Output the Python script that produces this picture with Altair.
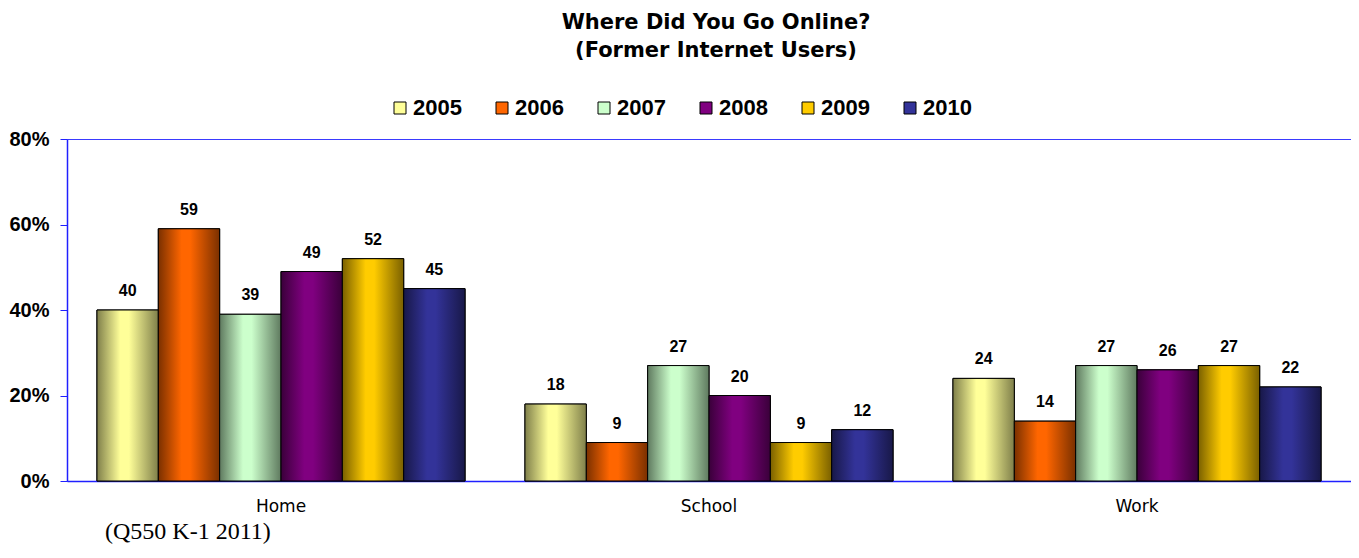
import altair as alt
import pandas as pd

places = ["Home", "School", "Work"]
years = ["2005", "2006", "2007", "2008", "2009", "2010"]
v2005 = [40, 18, 24]
v2006 = [59, 9, 14]
v2007 = [39, 27, 27]
v2008 = [49, 20, 26]
v2009 = [52, 9, 27]
v2010 = [45, 12, 22]
series = [v2005, v2006, v2007, v2008, v2009, v2010]
y_ticks = [0, 20, 40, 60, 80]

base_colors = ["#FFFF99", "#FF6600", "#CCFFCC", "#800080", "#FFCC00", "#333399"]
dark_colors = ["#7f7f4a", "#7a3000", "#5f7a5f", "#3a003a", "#7a6000", "#181848"]

title_lines = ["Where Did You Go Online?", "(Former Internet Users)"]
footnote = ["(Q550 K-1 2011)"]

rows = []
for y, vals in zip(years, series):
    for p, v in zip(places, vals):
        rows.append({"place": p, "year": y, "value": v})
df = pd.DataFrame(rows)

x_enc = alt.X("place:N", sort=places,
              scale=alt.Scale(domain=places, paddingInner=0.14, paddingOuter=0.07),
              axis=alt.Axis(title=None, labelAngle=0, ticks=False, domainColor="#2020ff",
                            domainWidth=1.5, labelFont="DejaVu Sans", labelFontSize=17,
                            labelColor="#000", labelPadding=17))
xoff_enc = alt.XOffset("year:N", sort=years,
                       scale=alt.Scale(domain=years, paddingInner=0, paddingOuter=0))
y_enc = alt.Y("value:Q", scale=alt.Scale(domain=[0, 80], nice=False),
              axis=alt.Axis(title=None, values=y_ticks, grid=False, domainColor="#2020ff",
                            domainWidth=1.5, tickColor="#2020ff", tickSize=7,
                            labelExpr="datum.value + '%'", labelFont="Liberation Sans",
                            labelFontWeight="bold", labelFontSize=20, labelColor="#000",
                            labelPadding=11))

legend_layer = alt.Chart(df).mark_bar(stroke="#000", strokeWidth=1).encode(
    x=x_enc, xOffset=xoff_enc, y=y_enc,
    color=alt.Color("year:N", sort=years,
                    scale=alt.Scale(domain=years, range=base_colors),
                    legend=alt.Legend(title=None, orient="none", direction="horizontal",
                                      legendX=322, legendY=-42, padding=0,
                                      symbolType="square", symbolSize=144,
                                      symbolStrokeColor="#000", symbolStrokeWidth=1,
                                      labelFont="Liberation Sans", labelFontWeight="bold",
                                      labelFontSize=22, labelColor="#000",
                                      labelOffset=2, columnPadding=29))
)

layers = [legend_layer]
for y, b, d in zip(years, base_colors, dark_colors):
    grad = alt.Gradient(
        gradient="linear", x1=0, x2=1, y1=0, y2=0,
        stops=[alt.GradientStop(color=d, offset=0),
               alt.GradientStop(color=b, offset=0.38),
               alt.GradientStop(color=b, offset=0.52),
               alt.GradientStop(color=d, offset=1)])
    layers.append(
        alt.Chart(df).transform_filter(alt.datum.year == y)
        .mark_bar(fill=grad, stroke="#000", strokeWidth=1)
        .encode(x=x_enc, xOffset=xoff_enc, y=y_enc)
    )

labels = alt.Chart(df).mark_text(
    font="Liberation Sans", fontWeight="bold", fontSize=16, color="#000",
    baseline="alphabetic", dy=-14
).encode(x=x_enc, xOffset=xoff_enc, y=y_enc, text="value:Q")
layers.append(labels)

foot = alt.Chart(pd.DataFrame({"t": footnote})).mark_text(
    font="Liberation Serif", fontSize=24, color="#000", align="left", baseline="alphabetic"
).encode(x=alt.value(38), y=alt.value(400), text="t:N")
layers.append(foot)

chart = alt.layer(*layers).properties(
    width=1284, height=342,
    padding={"left": 59, "top": 131, "right": 0, "bottom": 64},
    autosize=alt.AutoSizeParams(type="none"),
    title=alt.Title(title_lines, font="DejaVu Sans", fontSize=21, fontWeight="bold",
                    color="#000", lineHeight=28, anchor="middle", frame="group",
                    offset=36, dx=7),
).configure_view(stroke="#3a3aff", strokeWidth=1)

chart.save("out.html", embed_options={"renderer": "svg", "actions": False})
